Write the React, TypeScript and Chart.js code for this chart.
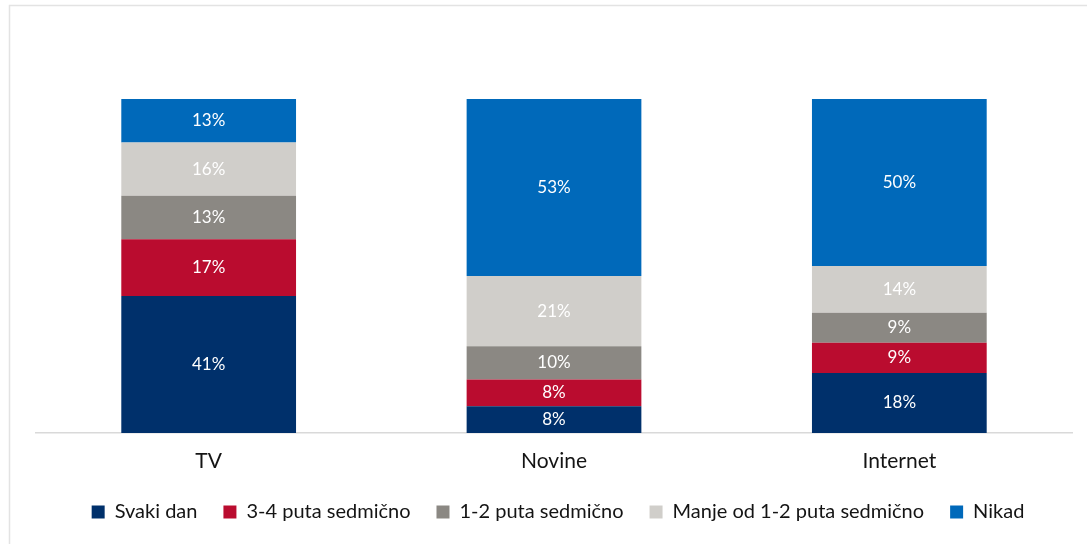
import React, { useEffect, useRef } from "react";
import { Chart, registerables } from "chart.js";

Chart.register(...registerables);

const categories = ["TV", "Novine", "Internet"];
const seriesNames = ["Svaki dan", "3-4 puta sedmično", "1-2 puta sedmično", "Manje od 1-2 puta sedmično", "Nikad"];
const svakiDan = [41, 8, 18];
const triCetiri = [17, 8, 9];
const jedanDva = [13, 10, 9];
const manjeOd = [16, 21, 14];
const nikad = [13, 53, 50];
const seriesColors = ["#00306B", "#BA0C2F", "#8B8883", "#D0CECA", "#0069BA"];

const FONT = "Lato, 'Open Sans', sans-serif";

const framePlugin = {
  id: "frame",
  beforeDraw(chart: any) {
    const ctx = chart.ctx;
    ctx.save();
    ctx.strokeStyle = "#E3E3E3";
    ctx.lineWidth = 1.5;
    ctx.beginPath();
    ctx.moveTo(9.5, chart.height);
    ctx.lineTo(9.5, 5.5);
    ctx.lineTo(chart.width, 5.5);
    ctx.stroke();
    ctx.restore();
  },
};

const legendShiftPlugin = {
  id: "legendShift",
  afterLayout(chart: any) {
    if (chart.legend) {
      chart.legend.left += 4;
      chart.legend.right += 4;
      chart.legend.top += 1;
      chart.legend.bottom += 1;
    }
  },
};

const labelPlugin = {
  id: "segLabels",
  afterDatasetsDraw(chart: any) {
    const ctx = chart.ctx;
    ctx.save();
    ctx.fillStyle = "#FFFFFF";
    ctx.font = `17px ${FONT}`;
    ctx.textAlign = "center";
    ctx.textBaseline = "middle";
    chart.data.datasets.forEach((ds: any, di: number) => {
      const meta = chart.getDatasetMeta(di);
      meta.data.forEach((el: any, i: number) => {
        const v = ds.data[i];
        ctx.fillText(`${v}%`, el.x, (el.y + el.base) / 2);
      });
    });
    ctx.restore();
  },
};

export default function App() {
  const ref = useRef<HTMLCanvasElement | null>(null);
  useEffect(() => {
    document.body.style.margin = "0";
    const values = [svakiDan, triCetiri, jedanDva, manjeOd, nikad];
    const chart = new Chart(ref.current as HTMLCanvasElement, {
      type: "bar",
      data: {
        labels: categories,
        datasets: seriesNames.map((name, i) => ({
          label: name,
          data: values[i],
          backgroundColor: seriesColors[i],
          borderWidth: 0,
          categoryPercentage: 1,
          barPercentage: 0.506,
        })),
      },
      options: {
        animation: false,
        responsive: false,
        layout: { padding: { left: 36, right: 15, top: 99, bottom: 13 } },
        plugins: {
          legend: {
            position: "bottom",
            labels: {
              boxWidth: 13,
              boxHeight: 13,
              padding: 26,
              color: "#141414",
              font: { family: FONT, size: 20 },
            },
          },
          tooltip: { enabled: false },
        },
        scales: {
          x: {
            stacked: true,
            grid: { display: false, drawTicks: false },
            border: { display: true, color: "#D9D9D9", width: 1.5 },
            ticks: { color: "#141414", padding: 16, font: { family: FONT, size: 21 } },
            afterFit: (scale: any) => {
              scale.height = 42;
            },
          },
          y: {
            stacked: true,
            display: false,
            min: 0,
            max: 100,
          },
        },
      },
      plugins: [framePlugin, legendShiftPlugin, labelPlugin],
    });
    return () => chart.destroy();
  }, []);
  return <canvas ref={ref} width={1087} height={544} style={{ display: "block" }} />;
}
